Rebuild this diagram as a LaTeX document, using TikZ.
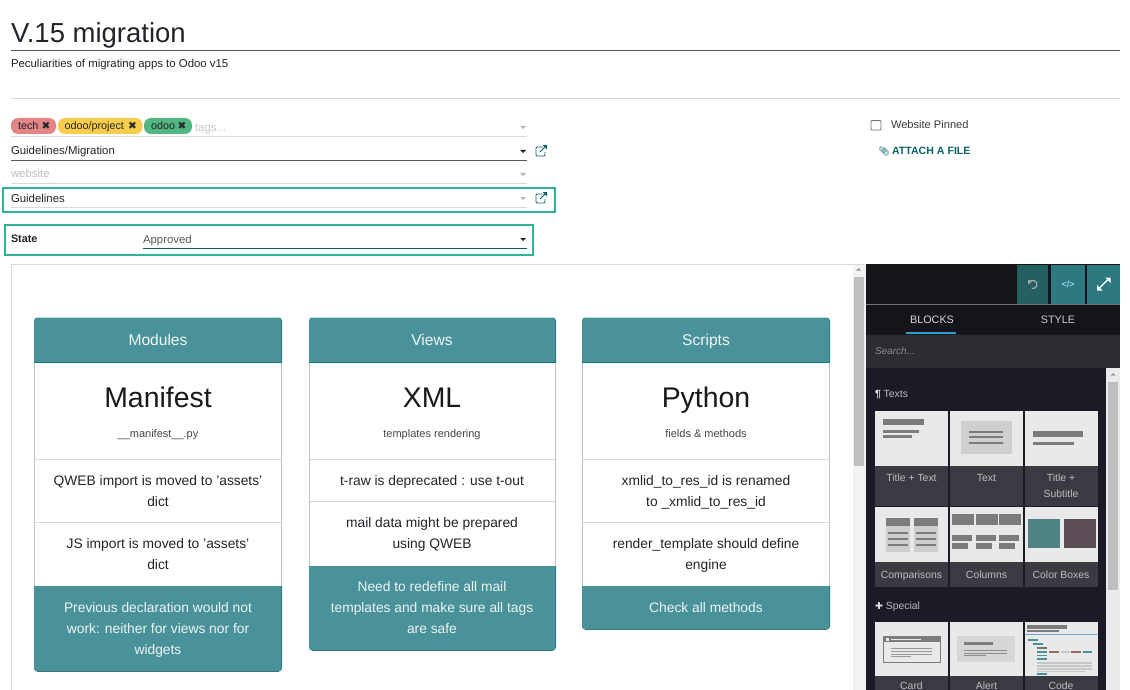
\documentclass[tikz,border=0pt]{standalone}
\usepackage{fontspec}
\setmainfont{Liberation Sans}
\newfontfamily\djv{DejaVu Sans}
\newfontfamily\emo{Noto Emoji}
\definecolor{tealc}{HTML}{4A9299}
\definecolor{teald}{HTML}{0E7C80}
\definecolor{ink}{HTML}{212529}
\definecolor{frameg}{HTML}{2BB795}
\definecolor{lineg}{HTML}{D9D9D9}
\definecolor{panel}{HTML}{1A1B24}
\definecolor{panelk}{HTML}{15141A}
\definecolor{labelbg}{HTML}{3A3B42}
\definecolor{labeltx}{HTML}{BDBDBD}
\definecolor{thumb}{HTML}{E9E9E9}
\definecolor{thd}{HTML}{7C7C7C}
\definecolor{thm}{HTML}{CFCFCF}
\definecolor{tagred}{HTML}{E38585}
\definecolor{tagyel}{HTML}{F7CD4B}
\definecolor{taggrn}{HTML}{52B682}
\definecolor{btnA}{HTML}{245F61}
\definecolor{btnB}{HTML}{2C7A80}
\definecolor{searchbg}{HTML}{2B2D33}
\definecolor{boxteal}{HTML}{4F8285}
\definecolor{boxplum}{HTML}{5D4F57}
\definecolor{codeblue}{HTML}{6FA3D8}
\definecolor{coderust}{HTML}{9A6A60}
\newcommand{\fs}[1]{\fontsize{#1}{#1}\selectfont}
\tikzset{
  x=1pt,y=-1pt,
  txt/.style={inner sep=0pt,outer sep=0pt,anchor=base,text=ink},
  txtl/.style={txt,anchor=base west},
  cardtitlew/.style={txt,text=white!92!tealc,font=\fs{15.6}},
  big/.style={txt,font=\fs{28.4},text=black!90},
  small/.style={txt,font=\fs{11},text=ink!85},
  body/.style={txt,font=\fs{13.8}},
  bodyw/.style={txt,text=white!90!tealc,font=\fs{13.8}},
  field/.style={txtl,font=\fs{11.4}},
  thlabel/.style={txt,text=labeltx,font=\fs{10.4}},
  cardline/.style={draw=lineg,line width=.8pt},
  pill/.style={rounded corners=7pt},
  greenframe/.style={draw=frameg,line width=2pt},
  caretg/.style={fill=lineg!85!black},
  caretk/.style={fill=ink},
  linkicon/.style={draw=teald!80!black,line width=.9pt},
  tagx/.style={txt,font=\djv\fs{10.5},text=black!85},
  tagt/.style={txtl,font=\fs{10.8}},
}
\newcommand{\caret}[3]{\fill[#3] (#1-3,#2-1.5) -- (#1+3,#2-1.5) -- (#1,#2+1.5) -- cycle;}
\newcommand{\extlink}[2]{%
  \draw[linkicon,rounded corners=1pt] (#1+2,#2-4) -- (#1-5,#2-4) -- (#1-5,#2+5) -- (#1+4,#2+5) -- (#1+4,#2+1);
  \draw[linkicon] (#1-1,#2+1) -- (#1+5,#2-5);
  \fill[teald!80!black] (#1+1.5,#2-6) -- (#1+6,#2-6) -- (#1+6,#2-1.5) -- cycle;}
% left, right, foot top, bottom
\newcommand{\cardshape}[4]{%
  \draw[black!25,line width=.8pt] (#1+.5,362) -- (#1+.5,#3) (#2-.5,362) -- (#2-.5,#3);
  \fill[tealc] (#1,362.5) [rounded corners=3pt] -- (#1,317.5) -- (#2,317.5) [sharp corners] -- (#2,362.5) -- cycle;
  \draw[teald,line width=.8pt] (#1,362.7) -- (#2,362.7);
  \fill[tealc] (#1,#3) [rounded corners=3pt] -- (#1,#4) -- (#2,#4) [sharp corners] -- (#2,#3) -- cycle;
  \draw[teald!80!black!85,line width=.6pt] (#2-.3,320) -- (#2-.3,362) (#2-.3,#3) -- (#2-.3,#4-3);
  \draw[tealc!80!black,line width=.6pt] (#1+3,#4-.3) -- (#2-3,#4-.3);
}
\begin{document}
\begin{tikzpicture}
\useasboundingbox (0,0) rectangle (1130,690);
\clip (0,0) rectangle (1130,690);
\fill[white] (0,0) rectangle (1130,690);
% header
\node[txtl,font=\fs{27.5}] (title) at (11,42.5) {V.15 migration};
\draw[draw=black!65,line width=.9pt] (11,50.5) -- (1120,50.5);
\node[field] (sub) at (11,68) {Peculiarities of migrating apps to Odoo v15};
\draw[lineg,line width=.9pt] (11,98.5) -- (1120,98.5);
% tags
\fill[pill,fill=tagred] (11,118) rectangle (56,134);
\fill[pill,fill=tagyel] (58,118) rectangle (142.5,134);
\fill[pill,fill=taggrn] (144,118) rectangle (192,134);
\node[tagt] (tagA) at (18,129.5) {tech};
\node[tagx] (tagAx) at (46,130) {✖};
\node[tagt] (tagB) at (64.5,129.5) {odoo/project};
\node[tagx] (tagBx) at (132.5,130) {✖};
\node[tagt] (tagC) at (151,129.5) {odoo};
\node[tagx] (tagCx) at (182,130) {✖};
\node[field,text=black!22] (tagP) at (195,132) {tags...};
\draw[lineg,line width=.9pt] (11,136.5) -- (527,136.5);
\caret{523}{127.5}{caretg}
% fields
\node[field] (fcat) at (11,155) {Guidelines/Migration};
\draw[black!65,line width=.9pt] (11,160.5) -- (527,160.5);
\caret{523}{151.5}{caretk}
\extlink{541}{151}
\node[field,text=black!25] (fweb) at (11,178) {website};
\draw[lineg,line width=.9pt] (11,183.5) -- (527,183.5);
\caret{523}{174.5}{caretg}
\node[field] (fguide) at (11,202) {Guidelines};
\draw[lineg,line width=.9pt] (11,207.5) -- (527,207.5);
\caret{523}{198.5}{caretg}
\extlink{541}{198}
\draw[greenframe] (3,188) rectangle (554.5,212);
\node[txtl,font=\bfseries\fs{10.8}] (fstate) at (11,242) {State};
\node[field,text=black!65] (fappr) at (143,243) {Approved};
\draw[teald!75!black,line width=.9pt] (143,248.5) -- (527,248.5);
\caret{523}{239.5}{caretk}
\draw[greenframe] (5,225) rectangle (533,254.5);
% right column
\draw[black!55,line width=.8pt,rounded corners=1pt] (871,120.5) rectangle (881,130);
\node[txtl,font=\fs{11.1},text=ink!90] (pin) at (891,128.5) {Website Pinned};
\node[txt,font=\emo\fs{9},text=teald!80!black] (clipico) at (884,154.5) {📎};
\node[txtl,font=\bfseries\fs{10.6},text=teald!80!black] (attach) at (892,155) {ATTACH A FILE};
% editor frame
\draw[lineg,line width=.8pt] (11.5,690) -- (11.5,264) -- (865,264);
% main scrollbar
\fill[black!5] (853,264.5) rectangle (866,690);
\fill[black!25] (854,277) rectangle (863.5,466);
\fill[black!40] (856,270.5) -- (861,270.5) -- (858.5,268) -- cycle;
% card 1
\cardshape{34}{282}{586}{671.5}
\draw[cardline] (35,459) -- (281,459) (35,522.5) -- (281,522.5);
\node[cardtitlew] (c1h) at (158,345) {Modules};
\node[big] (c1t) at (158,407) {Manifest};
\node[small] (c1s) at (158,437) {\_\_manifest\_\_.py};
\node[body] (c1a) at (158,485) {QWEB import is moved to 'assets'};
\node[body] (c1b) at (158,506) {dict};
\node[body] (c1c) at (158,548.5) {JS import is moved to 'assets'};
\node[body] (c1d) at (158,569.5) {dict};
\node[bodyw] (c1e) at (158,612.5) {Previous declaration would not};
\node[bodyw] (c1f) at (158,633.5) {work: neither for views nor for};
\node[bodyw] (c1g) at (158,654.5) {widgets};
% card 2
\cardshape{309}{556}{566}{650.5}
\draw[cardline] (310,459) -- (555,459) (310,501.5) -- (555,501.5);
\node[cardtitlew] (c2h) at (432,345) {Views};
\node[big] (c2t) at (432,407) {XML};
\node[small] (c2s) at (432,437) {templates rendering};
\node[body] (c2a) at (432,485) {t-raw is deprecated : use t-out};
\node[body] (c2b) at (432,527.5) {mail data might be prepared};
\node[body] (c2c) at (432,548.5) {using QWEB};
\node[bodyw] (c2d) at (432,591.5) {Need to redefine all mail};
\node[bodyw] (c2e) at (432,612.5) {templates and make sure all tags};
\node[bodyw] (c2f) at (432,633.5) {are safe};
% card 3
\cardshape{582}{830}{586}{629.5}
\draw[cardline] (583,459) -- (829,459) (583,522.5) -- (829,522.5);
\node[cardtitlew] (c3h) at (706,345) {Scripts};
\node[big] (c3t) at (706,407) {Python};
\node[small] (c3s) at (706,437) {fields \& methods};
\node[body] (c3a) at (706,485) {xmlid\_to\_res\_id is renamed};
\node[body] (c3b) at (706,506) {to \_xmlid\_to\_res\_id};
\node[body] (c3c) at (706,548.5) {render\_template should define};
\node[body] (c3d) at (706,569.5) {engine};
\node[bodyw] (c3e) at (706,612.5) {Check all methods};
% panel
\fill[panelk] (866,264) rectangle (1119.5,334);
\fill[panel] (866,334) rectangle (1119.5,690);
\fill[black!8] (1105.5,368) rectangle (1119.5,690);
\fill[black!25] (1108,382) rectangle (1118,590);
\fill[black!40] (1110.5,375.5) -- (1115.5,375.5) -- (1113,373) -- cycle;
\draw[black!55,line width=.6pt] (866,304.5) -- (1119.5,304.5);
\fill[btnA] (1017,264.5) rectangle (1048,304);
\fill[btnB] (1051,264.5) rectangle (1085,304);
\fill[btnB] (1087,264.5) rectangle (1119.5,304);
% icons
\draw[black!35,line width=1.3pt] (1033,284.5) ++(200:4) arc[start angle=200,end angle=470,radius=4];
\fill[black!35] (1028,280) -- (1032,280.5) -- (1028,284.5) -- cycle;
\node[txt,text=cyan!35!white!85!teal,font=\bfseries\fs{9}] (codeico) at (1068,287.5) {</>};
\draw[white,line width=1.3pt] (1099,288.5) -- (1108,279.5);
\fill[white] (1105,277.5) -- (1110.5,277.5) -- (1110.5,283) -- cycle;
\fill[white] (1097,285) -- (1097,290.5) -- (1102.5,290.5) -- cycle;
% tabs
\node[txt,text=white!85!black,font=\fs{10.8}] (tabA) at (932,323) {BLOCKS};
\node[txt,text=white!80!black,font=\fs{10.8}] (tabB) at (1058,323) {STYLE};
\draw[cyan!65!teal,line width=1.2pt] (906,333) -- (956,333);
\fill[searchbg] (866,334.5) rectangle (1119.5,367.5);
\node[txtl,text=black!45,font=\itshape\fs{10}] (search) at (875,354.5) {Search...};
% Texts section
\node[txtl,text=labeltx,font=\fs{10.4}] (secT) at (875,397) {{\bfseries\textcolor{white!90!black}{¶}} Texts};
\foreach \xx in {875,950,1025}{
  \fill[labelbg] (\xx,465) rectangle ++(73,41);
  \fill[thumb] (\xx,410.5) rectangle ++(73,55);
  \fill[labelbg] (\xx,562) rectangle ++(73,25);
  \fill[thumb] (\xx,507) rectangle ++(73,55);
  \fill[labelbg] (\xx,676) rectangle ++(73,20);
  \fill[thumb] (\xx,622) rectangle ++(73,54);
}
% thumb: title + text
\fill[thd] (883,419) rectangle (924,425);
\fill[thd] (883,430) rectangle (919,433);
\fill[thd] (883,434.5) rectangle (912,437.5);
% thumb: text
\fill[thm] (961,421) rectangle (1012,454);
\foreach \yy in {432,437,443}{\fill[thd] (969,\yy-1) rectangle (1003,\yy+1);}
% thumb: title + subtitle
\fill[thd] (1033,431) rectangle (1083,437);
\fill[thd] (1033,442) rectangle (1074,445);
% thumb: comparisons
\foreach \xx in {886,914}{
  \fill[thm] (\xx,518) rectangle ++(24,34);
  \fill[thd] (\xx,518) rectangle ++(24,8);
  \foreach \yy in {533,539,545}{\fill[thd] (\xx+2,\yy-1) rectangle ++(19.5,2);}
}
% thumb: columns
\foreach \xx in {952,976,999}{
  \fill[thd] (\xx,514) rectangle ++(22,11);
  \fill[thd] (\xx,535) rectangle ++(19.5,5.5);
  \fill[thd] (\xx,543) rectangle ++(15.5,5.5);
}
% thumb: colour boxes
\fill[boxteal] (1028,519) rectangle (1060,548);
\fill[boxplum] (1064,519) rectangle (1096,548);
% labels
\node[thlabel] (l1) at (911.5,481) {Title + Text};
\node[thlabel] (l2) at (986.5,481) {Text};
\node[thlabel] (l3) at (1061,481) {Title +};
\node[thlabel] (l3b) at (1061,497) {Subtitle};
\node[thlabel] (l4) at (911.5,578) {Comparisons};
\node[thlabel] (l5) at (986.5,578) {Columns};
\node[thlabel] (l6) at (1061,578) {Color Boxes};
% Special section
\node[txtl,text=labeltx,font=\fs{10.4}] (secS) at (875,609) {{\djv\fs{9.5}\textcolor{white!90!black}{✚}} Special};
% thumb: card
\fill[thumb] (883,636) rectangle (940,662);
\draw[thd,line width=.9pt] (883.5,636.5) rectangle (940,662);
\fill[thd] (883,636) rectangle (940,642);
\fill[thumb] (886,638) rectangle (889,640.5);
\fill[thumb] (891,638.5) rectangle (921,640);
\foreach \yy in {648,651,654}{\fill[black!40] (891,\yy-.5) rectangle (932,\yy+.5);}
\fill[black!40] (891,656) rectangle (911,657);
% thumb: alert
\fill[black!16] (957,636) rectangle (1015,662);
\fill[thd] (964,642) rectangle (993,644.5);
\foreach \yy in {650,653}{\fill[black!45] (964,\yy-.5) rectangle (1007,\yy+.5);}
\fill[black!45] (964,655) rectangle (986,656);
% thumb: code
\fill[thd] (1027,625) rectangle (1067,629);
\fill[thd] (1027,630) rectangle (1059,631.5);
\draw[codeblue,line width=.7pt] (1025,634.5) -- (1097,634.5);
\fill[tealc] (1028,639) rectangle (1038,641);
\fill[tealc] (1033,643) rectangle (1043,645);
\fill[black!55] (1037,647) rectangle (1047,649);
\foreach \yy in {651,654.5,658}{\fill[tealc] (1037,\yy) rectangle (1047,\yy+1.8);}
\fill[tealc] (1037,673) rectangle (1047,675);
\fill[coderust] (1049,651) rectangle (1059,653);
\fill[black!22] (1061,651) rectangle (1070,653);
\fill[coderust] (1071,651) rectangle (1081,653);
\fill[tealc] (1083,651) rectangle (1092,653);
\foreach \yy in {662,665,668}{\fill[black!22] (1037,\yy) rectangle (1092,\yy+1.5);}
\fill[black!22] (1037,670.5) rectangle (1085,672);
\node[thlabel] (l7) at (911.5,689) {Card};
\node[thlabel] (l8) at (986.5,689) {Alert};
\node[thlabel] (l9) at (1061,689) {Code};
\end{tikzpicture}
\end{document}
